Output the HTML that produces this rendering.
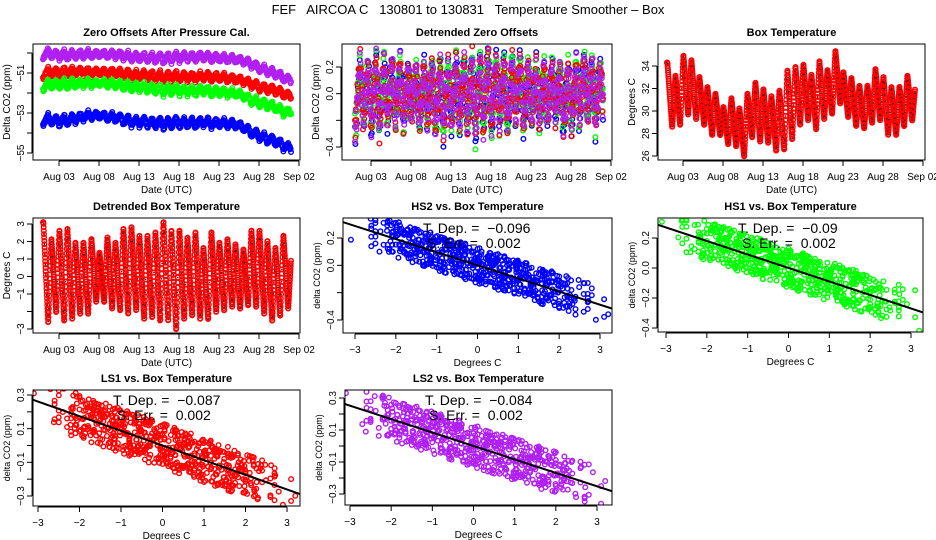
<!DOCTYPE html>
<html><head><meta charset="utf-8"><style>
html,body{margin:0;padding:0;background:#fff;}
svg{display:block;font-family:"Liberation Sans",Arial,sans-serif;}
text{white-space:pre;}
</style></head><body>
<svg id="chart" width="936" height="540" viewBox="0 0 936 540" xmlns="http://www.w3.org/2000/svg">
<rect width="936" height="540" fill="#fff"/>
<text x="468" y="14" text-anchor="middle" font-size="13" xml:space="preserve">FEF   AIRCOA C   130801 to 130831   Temperature Smoother – Box</text>
</svg>
<script>
// ---- data ----
const tempHigh=[34.3,33.2,35.0,34.6,33.1,32.2,31.6,30.4,31.2,30.3,31.6,32.6,32.0,31.4,31.9,33.7,34.0,34.2,33.3,34.5,33.7,35.4,33.5,33.0,32.3,32.3,33.8,33.1,32.2,32.2,33.2];
const tempLow=[28.5,28.7,29.6,29.2,28.7,27.8,27.8,27.0,26.8,25.9,27.6,27.2,27.1,26.4,26.5,27.4,28.7,29.1,28.3,29.2,29.7,30.6,29.4,28.6,28.4,28.9,29.1,27.8,27.8,28.6,29.1];
const tempEnd=31.9;
const dtHigh=[3.1,2.2,2.7,2.8,2.0,2.0,2.2,1.4,2.3,2.0,2.8,2.9,2.4,2.4,2.6,3.2,2.7,2.7,2.3,2.6,1.7,2.6,2.0,2.2,1.9,1.6,2.7,2.7,2.1,1.7,2.4];
const dtLow=[-2.7,-2.1,-2.6,-2.5,-2.2,-2.2,-1.5,-1.5,-1.9,-2.0,-2.2,-2.0,-2.5,-2.4,-2.6,-2.6,-3.1,-2.5,-2.3,-2.5,-2.5,-2.1,-2.0,-1.8,-1.9,-1.7,-1.8,-2.2,-2.6,-2.3,-1.9];
const dtEnd=0.9;
const knotDays=[0,2,4,6,8,10,12,14,16,18,20,22,24,26,28,30,31];
const trendLS2=[-50.0,-50.1,-50.1,-50.05,-50.05,-50.1,-50.2,-50.25,-50.25,-50.2,-50.2,-50.25,-50.3,-50.5,-50.9,-51.2,-51.4];
const trendLS1=[-51.0,-50.95,-50.95,-50.95,-50.95,-51.0,-51.1,-51.15,-51.2,-51.2,-51.2,-51.2,-51.3,-51.5,-51.8,-52.0,-52.2];
const trendHS1=[-51.6,-51.55,-51.55,-51.5,-51.5,-51.6,-51.7,-51.8,-51.85,-51.9,-51.9,-51.95,-52.0,-52.3,-52.6,-52.9,-53.0];
const trendHS2=[-53.3,-53.4,-53.3,-53.1,-53.15,-53.3,-53.45,-53.5,-53.5,-53.5,-53.5,-53.5,-53.55,-53.9,-54.3,-54.6,-54.8];
const slopeHS2=-0.096, slopeHS1=-0.09, slopeLS1=-0.087, slopeLS2=-0.084;
const noise=[0.05,-0.08,0.12,-0.03,0.09,-0.11,0.02,0.07,-0.06,0.11,-0.01,-0.09,0.04,0.13,-0.05,0.00,-0.12,0.08,0.03,-0.07,0.10,-0.02,0.06,-0.10,0.01,0.09,-0.04,-0.13,0.07,0.02,-0.06,0.11,-0.08,0.04,-0.01,0.12,-0.09,0.05,-0.03,0.08,-0.11];
const dateTickDays=[2,7,12,17,22,27,32];
const dateTickLabels=["Aug 03","Aug 08","Aug 13","Aug 18","Aug 23","Aug 28","Sep 02"];
const degTicks=[-3,-2,-1,0,1,2,3];

const svg=document.getElementById('chart');
const NS='http://www.w3.org/2000/svg';
function el(tag,attrs,parent){const e=document.createElementNS(NS,tag);for(const k in attrs)e.setAttribute(k,attrs[k]);(parent||svg).appendChild(e);return e;}
function lin(d0,p0,d1,p1){return v=>p0+(v-d0)*(p1-p0)/(d1-d0);}

function zig(highs,lows,end,t){
  const ks=[[0,highs[0]]];
  for(let n=0;n<highs.length;n++){ks.push([n+0.05,highs[n]]);ks.push([n+0.65,lows[n]]);}
  ks.push([31,end]);
  for(let i=1;i<ks.length;i++){if(t<=ks[i][0]){const a=ks[i-1],b=ks[i];return a[1]+(t-a[0])*(b[1]-a[1])/((b[0]-a[0])||1);}}
  return end;
}
function trendAt(arr,t){
  for(let i=1;i<knotDays.length;i++){if(t<=knotDays[i]){const f=(t-knotDays[i-1])/(knotDays[i]-knotDays[i-1]);return arr[i-1]+f*(arr[i]-arr[i-1]);}}
  return arr[arr.length-1];
}
const times=[];for(let k=0;k<=620;k++)times.push(k*0.05);
const tempTimes=[];for(let k=0;k<=1550;k++)tempTimes.push(k*0.02);

let clipId=0;
function panel(o){
  const g=el('g',{});
  
  
  const b=o.box;
  const cid='clip'+(clipId++);
  const cp=el('clipPath',{id:cid},g);el('rect',{x:b.l,y:b.t,width:b.r-b.l,height:b.b-b.t},cp);
  const marks=el('g',{'clip-path':'url(#'+cid+')'},g);
  
  
  const frame=el('rect',{x:b.l,y:b.t,width:b.r-b.l,height:b.b-b.t,fill:'none',stroke:'#000','stroke-width':1},g);
  
  
  const title=el('text',{x:(b.l+b.r)/2,y:b.t-8,'text-anchor':'middle','font-size':11,'font-weight':'bold'},g);
  title.textContent=o.title;
  
  
  const xa=el('g',{},g);
  
  
  const xp=o.xt.map(o.xs);
  el('line',{x1:Math.min(...xp),x2:Math.max(...xp),y1:b.b+1,y2:b.b+1,stroke:'#000'},xa);
  o.xt.forEach((v,i)=>{const x=o.xs(v);el('line',{x1:x,x2:x,y1:b.b+1,y2:b.b+6,stroke:'#000'},xa);
    const t=el('text',{x:x,y:b.b+20,'text-anchor':'middle','font-size':10},xa);t.textContent=o.xl[i];
    
    });
  const xt=el('text',{x:(b.l+b.r)/2,y:b.b+33,'text-anchor':'middle','font-size':10},xa);xt.textContent=o.xlab;
  
  
  const ya=el('g',{},g);
  
  
  const yp=o.yt.map(o.ys);
  el('line',{x1:b.l-1,x2:b.l-1,y1:Math.min(...yp),y2:Math.max(...yp),stroke:'#000'},ya);
  o.yt.forEach((v,i)=>{const y=o.ys(v);el('line',{x1:b.l-6,x2:b.l-1,y1:y,y2:y,stroke:'#000'},ya);
    if(o.yl[i]!==''){const t=el('text',{transform:'translate('+(b.l-9)+','+y+') rotate(-90)','text-anchor':'middle','font-size':10},ya);t.textContent=o.yl[i];
    
    }});
  const yt=el('text',{transform:'translate('+(b.l-23)+','+((b.t+b.b)/2)+') rotate(-90)','text-anchor':'middle','font-size':o.ylabSize||10},ya);yt.textContent=o.ylab;
  
  
  return {g,marks};
}
function dots(marks,pts,color,name,black){
  const gg=el('g',{fill:'none',stroke:color,'stroke-width':1.4},marks);
  
  
  pts.forEach(p=>{el('circle',{cx:p[0].toFixed(1),cy:p[1].toFixed(1),r:2.3},gg);});
  if(black){const bg=el('g',{fill:'#000'},marks);pts.forEach((p,i)=>{if(i%3===0)el('rect',{x:(p[0]-0.6).toFixed(1),y:(p[1]-0.6).toFixed(1),width:1.2,height:1.2},bg);});}
}
const gases=[
 {name:'hs2',color:'#0000ff',slope:slopeHS2,trend:trendHS2,off:0},
 {name:'hs1',color:'#00ff00',slope:slopeHS1,trend:trendHS1,off:13},
 {name:'ls1',color:'#ff0000',slope:slopeLS1,trend:trendLS1,off:7},
 {name:'ls2',color:'#b020f0',slope:slopeLS2,trend:trendLS2,off:23}];
function resid(gs,k,t){return gs.slope*zig(dtHigh,dtLow,dtEnd,t)+noise[(k+gs.off)%noise.length];}

// Panel 1: Zero offsets
(function(){
  const b={l:33,t:44,r:300,b:160};
  const xs=lin(0,43,1,51), ys=lin(-51,73,-53,113);
  const p=panel({name:'zero-offsets-panel',box:b,xs,ys,title:'Zero Offsets After Pressure Cal.',xlab:'Date (UTC)',ylab:'Delta CO2 (ppm)',
    xt:dateTickDays,xl:dateTickLabels,yt:[-55,-54,-53,-52,-51,-50],yl:['−55','','−53','','−51','']});
  [gases[3],gases[2],gases[1],gases[0]].forEach(gs=>{
    const pts=times.map((t,k)=>[xs(t),ys(trendAt(gs.trend,t)+gs.slope*zig(dtHigh,dtLow,dtEnd,t)+0.6*noise[(k+gs.off)%noise.length])]);
    dots(p.marks,pts,gs.color,'series-'+gs.name);
  });
})();
// Panel 2: Detrended zero offsets
(function(){
  const b={l:342,t:44,r:612,b:160};
  const xs=lin(0,355,1,363), ys=lin(0.2,67,-0.4,147);
  const p=panel({name:'detrended-offsets-panel',box:b,xs,ys,title:'Detrended Zero Offsets',xlab:'Date (UTC)',ylab:'Delta CO2 (ppm)',
    xt:dateTickDays,xl:dateTickLabels,yt:[-0.4,-0.2,0,0.2],yl:['−0.4','','0.0','0.2']});
  gases.forEach(gs=>{
    const pts=times.map((t,k)=>[xs(t),ys(resid(gs,k,t))]);
    dots(p.marks,pts,gs.color,'detrended-'+gs.name);
  });
})();
// Panel 3: Box temperature
(function(){
  const b={l:658,t:44,r:925,b:160};
  const xs=lin(0,667,1,675), ys=lin(34,66,26,156);
  const p=panel({name:'box-temperature-panel',box:b,xs,ys,title:'Box Temperature',xlab:'Date (UTC)',ylab:'Degrees C',
    xt:dateTickDays,xl:dateTickLabels,yt:[26,28,30,32,34],yl:['26','28','30','32','34']});
  const pts=tempTimes.map(t=>[xs(t),ys(zig(tempHigh,tempLow,tempEnd,t))]);
  dots(p.marks,pts,'#ff0000','box-temperature-series',true);
})();
// Panel 4: Detrended box temp
(function(){
  const b={l:33,t:218,r:300,b:333};
  const xs=lin(0,43,1,51), ys=lin(3,224,-3,329);
  const p=panel({name:'detrended-temperature-panel',box:b,xs,ys,title:'Detrended Box Temperature',xlab:'Date (UTC)',ylab:'Degrees C',
    xt:dateTickDays,xl:dateTickLabels,yt:[-3,-2,-1,0,1,2,3],yl:['−3','','−1','0','1','2','3']});
  const pts=tempTimes.map(t=>[xs(t),ys(zig(dtHigh,dtLow,dtEnd,t))]);
  dots(p.marks,pts,'#ff0000','detrended-temperature-series',true);
})();
// Scatter panels
function scatter(gs,title,box,xs,ys,yt,yl,dep,name){
  const p=panel({name,box,xs,ys,title,xlab:'Degrees C',ylab:'delta CO2 (ppm)',ylabSize:9,xt:degTicks,xl:degTicks.map(v=>v<0?'−'+(-v):''+v),yt,yl});
  const pts=times.map((t,k)=>[xs(zig(dtHigh,dtLow,dtEnd,t)),ys(resid(gs,k,t))]);
  dots(p.marks,pts,gs.color,'points-'+gs.name);
  const x0=-3.4,x1=3.4;
  const ln=el('line',{x1:xs(x0),y1:ys(gs.slope*x0),x2:xs(x1),y2:ys(gs.slope*x1),stroke:'#000','stroke-width':2},p.marks);
  
  
  const t1=el('text',{x:box.l+80,y:box.t+15,'font-size':14},p.g);t1.textContent='T. Dep. =  '+dep;
  
  
  const t2=el('text',{x:box.l+84,y:box.t+30,'font-size':14},p.g);t2.textContent='S. Err. =  0.002';
  
  
}
scatter(gases[0],'HS2 vs. Box Temperature',{l:343,t:218,r:612,b:333},lin(-3,355,3,600),lin(0.2,238,-0.4,320),[-0.4,-0.2,0,0.2],['−0.4','','0.0','0.2'],'−0.096','hs2-scatter-panel');
scatter(gases[1],'HS1 vs. Box Temperature',{l:658,t:218,r:923,b:332},lin(-3,666,3,911),lin(0.2,238,-0.4,328),[-0.4,-0.2,0,0.2],['−0.4','−0.2','0.0','0.2'],'−0.09','hs1-scatter-panel');
scatter(gases[2],'LS1 vs. Box Temperature',{l:33,t:390,r:300,b:506},lin(-3,38,3,287),lin(0.3,395,-0.3,496),[-0.3,-0.2,-0.1,0,0.1,0.2,0.3],['−0.3','','−0.1','','0.1','','0.3'],'−0.087','ls1-scatter-panel');
scatter(gases[3],'LS2 vs. Box Temperature',{l:345,t:390,r:612,b:505},lin(-3,350,3,597),lin(0.3,398,-0.3,494),[-0.3,-0.2,-0.1,0,0.1,0.2,0.3],['−0.3','','−0.1','','0.1','','0.3'],'−0.084','ls2-scatter-panel');
</script>
</body></html>
